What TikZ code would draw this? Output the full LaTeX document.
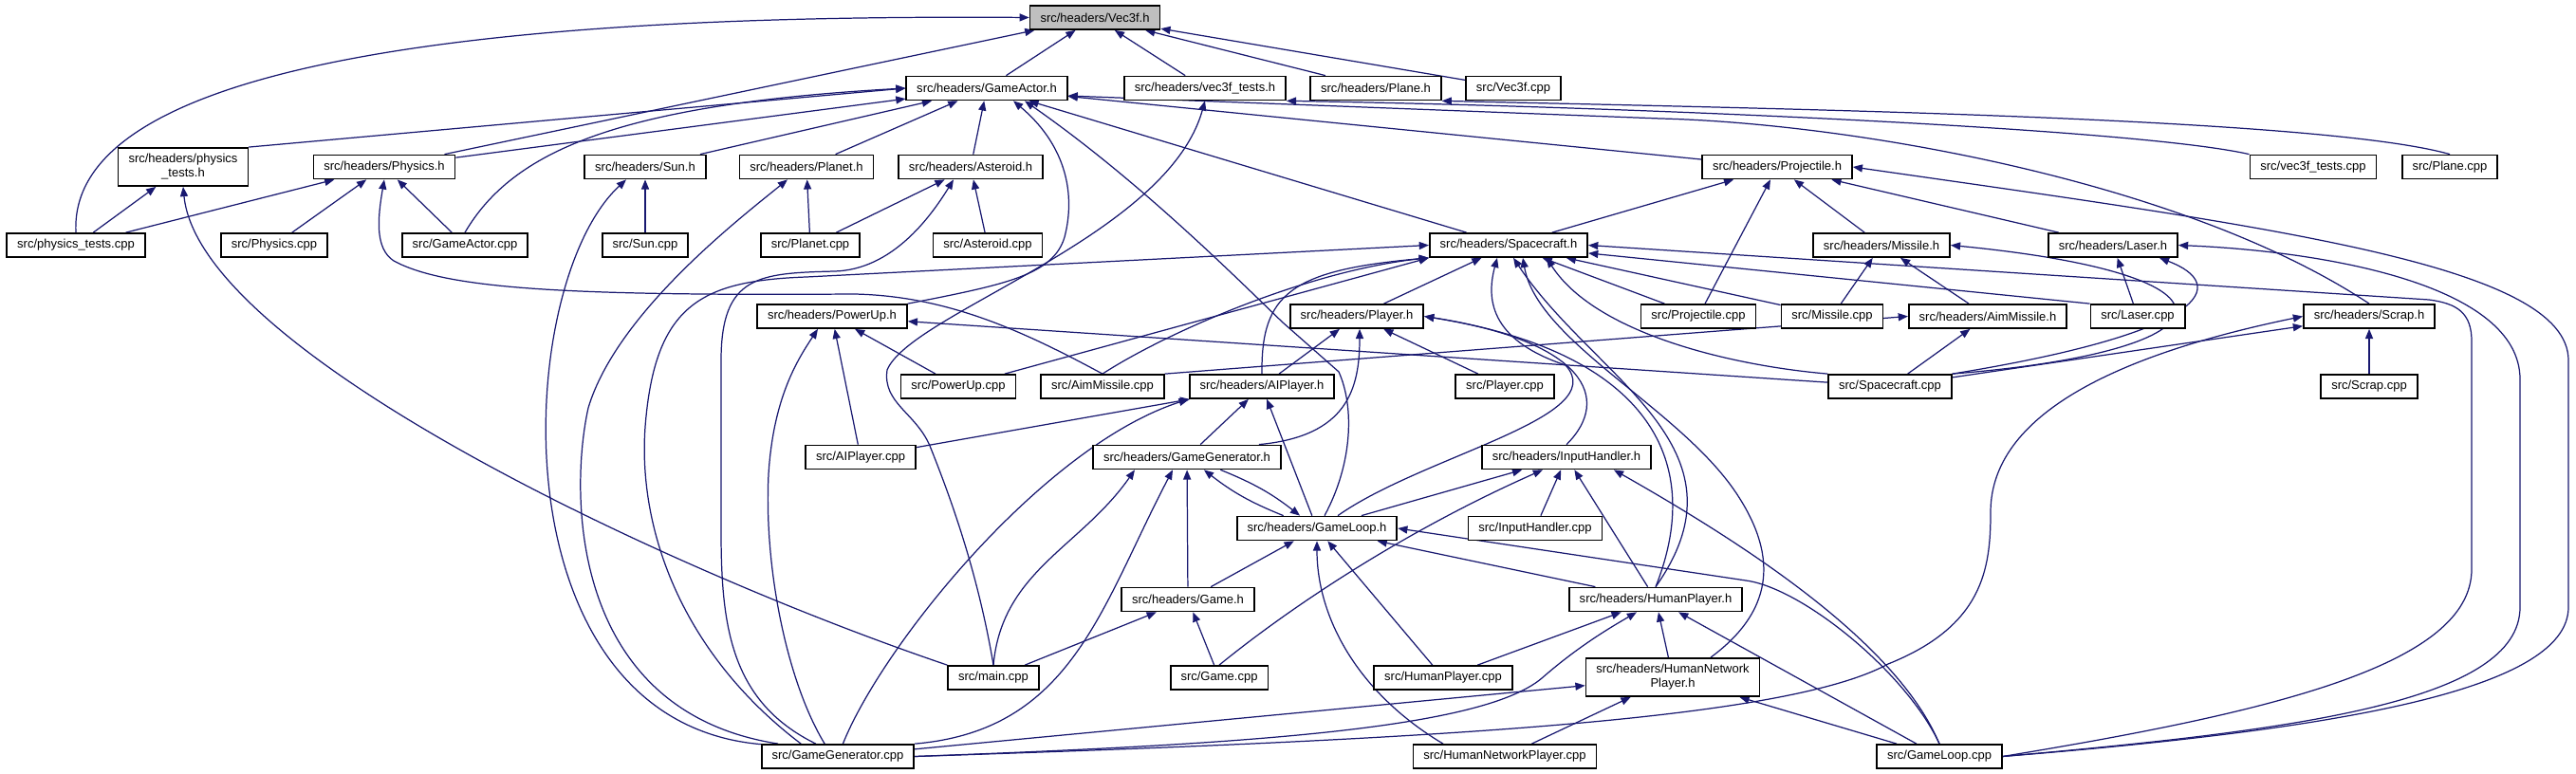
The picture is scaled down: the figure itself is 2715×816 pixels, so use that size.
\documentclass[tikz,border=0pt]{standalone}
\usepackage{fontspec}
\setmainfont{Liberation Sans}
\usetikzlibrary{calc, positioning}
\usetikzlibrary{arrows.meta}
\usetikzlibrary{backgrounds}

\definecolor{edgeblue}{HTML}{191970}
\definecolor{rootgray}{HTML}{BFBFBF}

\tikzset{
  file/.style={draw=black, line width=0.5pt, fill=white, minimum height=7.1pt,
    inner xsep=3.1pt, inner ysep=0pt, font=\fontsize{3.7}{4.3}\selectfont},
  twoline/.style={file, align=center, minimum height=11.4pt},
  root/.style={file, fill=rootgray},
  inc/.style={draw=edgeblue, line width=0.35pt, -{Triangle[length=2.9pt,width=2.3pt]}}
}

\begin{document}
\begin{tikzpicture}[x=0.01cm, y=-0.01cm]
\useasboundingbox (0,0) rectangle (2715,816);

\node[root] (VecH) at (1154,18.5) {src/headers/Vec3f.h};
\node[file] (ActorH) at (1040,93) {src/headers/GameActor.h};
\node[file] (VecTestsH) at (1270,93) {src/headers/vec3f\_tests.h};
\node[file] (PlaneH) at (1450,93) {src/headers/Plane.h};
\node[file] (VecCpp) at (1595,93) {src/Vec3f.cpp};
\node[twoline] (PhysTestsH) at (193,176) {src/headers/physics\\\_tests.h};
\node[file] (PhysicsH) at (405,176) {src/headers/Physics.h};
\node[file] (SunH) at (680,176) {src/headers/Sun.h};
\node[file] (PlanetH) at (850,176) {src/headers/Planet.h};
\node[file] (AsteroidH) at (1023,176) {src/headers/Asteroid.h};
\node[file] (ProjH) at (1873,176) {src/headers/Projectile.h};
\node[file] (VecTestsCpp) at (2438,176) {src/vec3f\_tests.cpp};
\node[file] (PlaneCpp) at (2582,176) {src/Plane.cpp};
\node[file] (PhysTestsCpp) at (80,258.5) {src/physics\_tests.cpp};
\node[file] (PhysicsCpp) at (289,258.5) {src/Physics.cpp};
\node[file] (ActorCpp) at (490,258.5) {src/GameActor.cpp};
\node[file] (SunCpp) at (680,258.5) {src/Sun.cpp};
\node[file] (PlanetCpp) at (854,258.5) {src/Planet.cpp};
\node[file] (AsteroidCpp) at (1041,258.5) {src/Asteroid.cpp};
\node[file] (CraftH) at (1590,258.5) {src/headers/Spacecraft.h};
\node[file] (MissileH) at (1983,258.5) {src/headers/Missile.h};
\node[file] (LaserH) at (2227,258.5) {src/headers/Laser.h};
\node[file] (PowerH) at (877,333.5) {src/headers/PowerUp.h};
\node[file] (PlayerH) at (1430,333.5) {src/headers/Player.h};
\node[file] (ProjCpp) at (1790,333.5) {src/Projectile.cpp};
\node[file] (MissileCpp) at (1931,333.5) {src/Missile.cpp};
\node[file] (AimH) at (2095,333.5) {src/headers/AimMissile.h};
\node[file] (LaserCpp) at (2253,333.5) {src/Laser.cpp};
\node[file] (ScrapH) at (2497,333.5) {src/headers/Scrap.h};
\node[file] (PowerCpp) at (1010,407.5) {src/PowerUp.cpp};
\node[file] (AimCpp) at (1162,407.5) {src/AimMissile.cpp};
\node[file] (AIH) at (1330,407.5) {src/headers/AIPlayer.h};
\node[file] (PlayerCpp) at (1586,407.5) {src/Player.cpp};
\node[file] (CraftCpp) at (1992,407.5) {src/Spacecraft.cpp};
\node[file] (ScrapCpp) at (2497,407.5) {src/Scrap.cpp};
\node[file] (AICpp) at (907,482) {src/AIPlayer.cpp};
\node[file] (GenH) at (1251,482) {src/headers/GameGenerator.h};
\node[file] (InputH) at (1651,482) {src/headers/InputHandler.h};
\node[file] (LoopH) at (1388,557) {src/headers/GameLoop.h};
\node[file] (InputCpp) at (1618,557) {src/InputHandler.cpp};
\node[file] (GameH) at (1252,632) {src/headers/Game.h};
\node[file] (HumanH) at (1745,632) {src/headers/HumanPlayer.h};
\node[file] (MainCpp) at (1047,714.5) {src/main.cpp};
\node[file] (GameCpp) at (1285,714.5) {src/Game.cpp};
\node[file] (HumanCpp) at (1521,714.5) {src/HumanPlayer.cpp};
\node[twoline] (NetH) at (1763,714) {src/headers/HumanNetwork\\Player.h};
\node[file] (GenCpp) at (883,797.5) {src/GameGenerator.cpp};
\node[file] (NetCpp) at (1586,797.5) {src/HumanNetworkPlayer.cpp};
\node[file] (LoopCpp) at (2044,797.5) {src/GameLoop.cpp};

\begin{scope}[on background layer]
\foreach \s/\t in {ActorH/VecH, VecTestsH/VecH, PlaneH/VecH, VecCpp/VecH, PhysicsH/VecH,
  PhysicsH/ActorH, SunH/ActorH, PlanetH/ActorH, AsteroidH/ActorH, CraftH/ActorH, ProjH/ActorH,
  PhysTestsCpp/PhysTestsH, PhysTestsCpp/PhysicsH, PhysicsCpp/PhysicsH, ActorCpp/PhysicsH,
  SunCpp/SunH, PlanetCpp/PlanetH, PlanetCpp/AsteroidH, AsteroidCpp/AsteroidH,
  CraftH/ProjH, ProjCpp/ProjH, MissileH/ProjH, LaserH/ProjH,
  PlayerH/CraftH, ProjCpp/CraftH, MissileCpp/CraftH,
  MissileCpp/MissileH, AimH/MissileH, LaserCpp/LaserH, CraftCpp/AimH,
  ScrapCpp/ScrapH, CraftCpp/ScrapH, CraftCpp/PowerH, PowerCpp/PowerH, AICpp/PowerH,
  AIH/PlayerH, PlayerCpp/PlayerH, AICpp/AIH, GenH/AIH, LoopH/AIH,
  GameH/GenH, GameH/LoopH, HumanCpp/LoopH, HumanH/LoopH,
  LoopH/InputH, InputCpp/InputH, HumanH/InputH,
  MainCpp/GameH, GameCpp/GameH, HumanCpp/HumanH, NetH/HumanH, LoopCpp/HumanH,
  GenCpp/NetH, NetCpp/NetH, LoopCpp/NetH}
  \draw[inc] (\s) -- (\t);

\draw[inc] (PhysTestsH.north east) -- (ActorH.west);
\draw[inc] (PowerCpp) -- (CraftH.south west);
\draw[inc] (AimCpp.north east) -- (AimH.west);
\draw[inc] (LaserCpp.north west) -- (CraftH);
\draw[inc] (LoopH) to[bend left=8] (GenH);
\draw[inc] (GenH) to[bend left=8] (LoopH);

\draw[inc] (PhysTestsCpp.north) .. controls (70,50) and (600,15) .. (VecH.west);
\draw[inc] (VecTestsCpp.north west) .. controls (2250,135) and (1700,112) .. (VecTestsH.south east);
\draw[inc] (PlaneCpp.north) .. controls (2450,125) and (1900,115) .. (PlaneH.south east);
\draw[inc] (MainCpp.north) .. controls (1030,600) and (1000,520) .. (980,470)
  .. controls (965,435) and (930,425) .. (935,390)
  .. controls (960,330) and (1230,250) .. (VecTestsH.south);
\draw[inc] (MainCpp.north west) .. controls (700,600) and (210,370) .. (PhysTestsH.south);
\draw[inc] (ActorCpp.north) .. controls (540,160) and (650,110) .. (ActorH.west);
\draw[inc] (PowerH.north east) .. controls (1060,300) and (1110,290) .. (1122,250)
  .. controls (1135,200) and (1120,150) .. ($(ActorH.south)+(28,0)$);
\draw[inc] ($(LoopH.north)+(8,0)$) .. controls (1425,490) and (1428,430) .. (1411,392)
  -- (1352,340) .. controls (1300,290) and (1200,190) .. ($(ActorH.south)+(40,0)$);
\draw[inc] (ScrapH.north) .. controls (2300,190) and (1950,130) .. (1750,125)
  -- ($(ActorH.east)+(0,8)$);
\draw[inc] (AimCpp.north) .. controls (1080,350) and (1000,312) .. (900,310)
  .. controls (600,312) and (470,305) .. (415,275)
  .. controls (395,262) and (398,230) .. (PhysicsH.south);

\draw[inc] (GenCpp.171) .. controls (520,760) and (540,300) .. ($(SunH.south)+(-20,0)$);
\draw[inc] (GenCpp.168) .. controls (600,750) and (600,520) .. (620,430)
  .. controls (650,330) and (780,230) .. ($(PlanetH.south)+(-20,0)$);
\draw[inc] (GenCpp.150) .. controls (770,740) and (760,660) .. (760,560) -- (760,380)
  .. controls (760,290) and (800,288) .. (880,286)
  .. controls (940,284) and (980,230) .. ($(AsteroidH.south)+(-18,0)$);
\draw[inc] (GenCpp.161) .. controls (720,690) and (672,560) .. (680,450)
  .. controls (690,320) and (740,296) .. (850,292) -- (CraftH.west);
\draw[inc] (GenCpp.136) .. controls (830,720) and (805,600) .. (810,500)
  .. controls (815,420) and (840,380) .. ($(PowerH.south)+(-15,0)$);
\draw[inc] (GenCpp.68) .. controls (930,680) and (1100,470) .. (AIH.south west);
\draw[inc] (GenCpp.north east) .. controls (1130,770) and (1160,640) .. ($(GenH.south)+(-15,0)$);
\draw[inc] (GenCpp.east) .. controls (1300,785) and (1560,770) .. (1625,715)
  .. controls (1665,680) and (1700,660) .. ($(HumanH.south)+(-20,0)$);
\draw[inc] (GenCpp.east) .. controls (1500,780) and (1880,760) .. (1990,700)
  .. controls (2090,660) and (2098,600) .. (2098,540)
  .. controls (2098,430) and (2250,370) .. (ScrapH.west);
\draw[inc] (MainCpp.north) .. controls (1056,602) and (1139,577) .. ($(GenH.south)+(-55,0)$);

\draw[inc] (AimCpp.north) .. controls (1230,350) and (1380,285) .. (CraftH.south west);
\draw[inc] (AIH.north) .. controls (1329,310) and (1360,285) .. (CraftH.south west);
\draw[inc] ($(LoopH.north)+(22,0)$) .. controls (1500,480) and (1700,440) .. (1650,385)
  .. controls (1575,360) and (1565,320) .. ($(CraftH.south)+(-12,0)$);
\draw[inc] (HumanH.north) .. controls (1850,470) and (1680,400) .. ($(CraftH.south)+(5,0)$);
\draw[inc] ($(NetH.north)+(40,0)$) .. controls (1875,640) and (1870,580) .. (1830,520)
  .. controls (1770,430) and (1620,360) .. ($(CraftH.south)+(15,0)$);
\draw[inc] (CraftCpp.north west) .. controls (1820,385) and (1680,350) .. ($(CraftH.south)+(40,0)$);
\draw[inc] (CraftCpp.north east) .. controls (2360,370) and (2380,290) .. (MissileH.east);
\draw[inc] (CraftCpp.north east) .. controls (2330,350) and (2350,300) .. ($(LaserH.south east)+(-20,0)$);
\draw[inc] (GenH.10) .. controls (1420,460) and (1433,410) .. ($(PlayerH.south)+(3,0)$);
\draw[inc] (InputH.north) .. controls (1700,420) and (1670,360) .. (PlayerH.east);
\draw[inc] (HumanH.north) .. controls (1800,480) and (1730,370) .. (PlayerH.east);

\draw[inc] (GameCpp.north) .. controls (1360,640) and (1480,560) .. ($(InputH.south)+(-25,0)$);
\draw[inc] ($(NetCpp.north)+(-65,0)$) .. controls (1430,730) and (1388,650) .. (LoopH.south);
\draw[inc] (LoopCpp.north) .. controls (2010,710) and (1900,620) .. (1840,612) -- (LoopH.east);
\draw[inc] (LoopCpp.north) .. controls (2000,680) and (1850,580) .. ($(InputH.south east)+(-40,0)$);
\draw[inc] (LoopCpp.east) .. controls (2400,750) and (2605,700) .. (2605,600) -- (2605,360)
  .. controls (2605,330) and (2590,320) .. (2560,316) -- (CraftH.east);
\draw[inc] (LoopCpp.east) .. controls (2420,770) and (2656,740) .. (2656,640) -- (2656,400)
  .. controls (2656,300) and (2450,265) .. (LaserH.east);
\draw[inc] (LoopCpp.east) .. controls (2450,770) and (2707,730) .. (2707,640) -- (2707,380)
  .. controls (2707,280) and (2400,240) .. (ProjH.east);
\end{scope}
\end{tikzpicture}
\end{document}
